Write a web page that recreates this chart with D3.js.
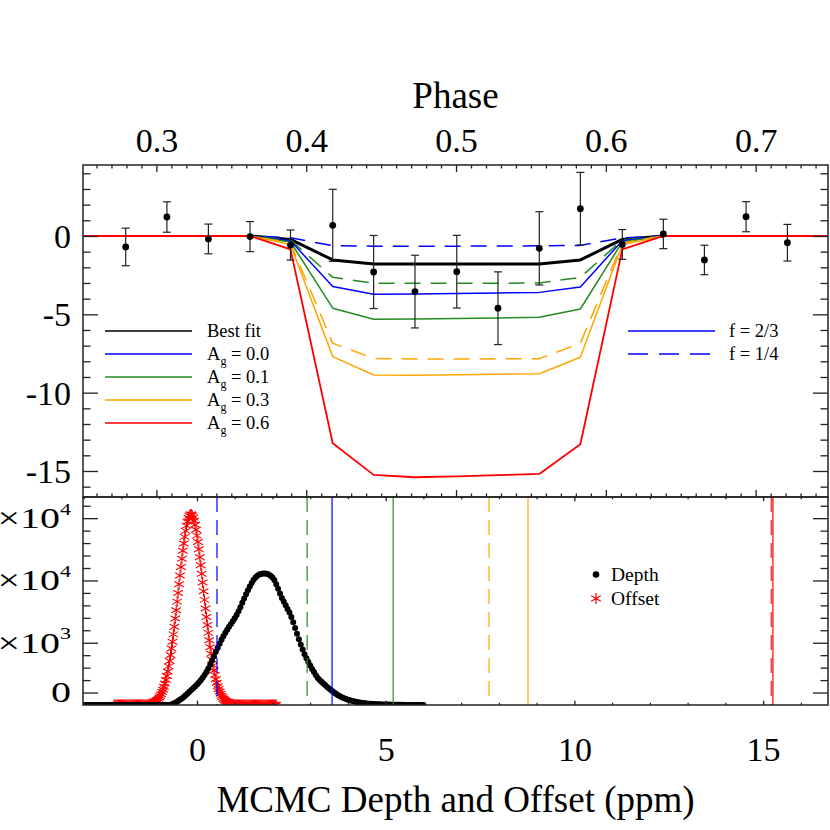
<!DOCTYPE html>
<html><head><meta charset="utf-8">
<script src="https://cdn.jsdelivr.net/npm/d3@7"></script>
<style>
body{margin:0;background:#fff}
svg{display:block}
text{font-family:"Liberation Serif","Times New Roman",serif;fill:#000}
</style>
</head><body>
<svg id="c" width="830" height="830"></svg>
<script>
// ---------------- data ----------------
const phaseTicks = [0.3, 0.4, 0.5, 0.6, 0.7];
const fluxTicks = [0, -5, -10, -15];
const ppmTicks = [0, 5, 10, 15];
const countTicks = [1000, 5000, 10000, 15000];
const countTickLabels = [["0", ""], ["5.0×10", "3"], ["1.0×10", "4"], ["1.5×10", "4"]];

const dataPhase = [0.2795,0.3070,0.3347,0.3625,0.3895,0.4177,0.4450,0.4726,0.5005,0.5280,0.5556,0.5830,0.6110,0.6384,0.6658,0.6936,0.7212];
const dataFlux  = [-0.70,1.21,-0.19,-0.04,-0.58,0.68,-2.30,-3.55,-2.28,-4.61,-0.79,1.74,-0.54,0.13,-1.53,1.23,-0.43];
const dataErr   = [1.20,0.97,0.95,0.96,0.96,2.30,2.33,2.32,2.32,2.32,2.34,2.32,0.95,0.94,0.94,0.96,1.17];

const modelPhase = [0.2500,0.2795,0.3070,0.3347,0.3625,0.3895,0.4177,0.4450,0.4726,0.5005,0.5280,0.5556,0.5830,0.6110,0.6384,0.6658,0.6936,0.7212,0.7500];
const modelBest    = [null,null,null,null,0,-0.22,-1.53,-1.79,-1.79,-1.79,-1.79,-1.79,-1.53,-0.22,0,null,null,null,null];
const modelAg00f14 = [0,0,0,0,0,-0.12,-0.62,-0.65,-0.65,-0.65,-0.64,-0.63,-0.60,-0.12,0,0,0,0,0];
const modelAg01f14 = [0,0,0,0,0,-0.25,-2.64,-3.02,-3.02,-3.02,-3.02,-3.00,-2.64,-0.25,0,0,0,0,0];
const modelAg30f14 = [0,0,0,0,0,-0.45,-6.85,-7.81,-7.86,-7.85,-7.84,-7.83,-6.85,-0.45,0,0,0,0,0];
const modelAg00f23 = [0,0,0,0,0,-0.30,-3.23,-3.72,-3.70,-3.67,-3.64,-3.60,-3.25,-0.30,0,0,0,0,0];
const modelAg01f23 = [0,0,0,0,0,-0.38,-4.61,-5.32,-5.30,-5.27,-5.23,-5.19,-4.66,-0.38,0,0,0,0,0];
const modelAg30f23 = [0,0,0,0,0,-0.55,-7.70,-8.87,-8.89,-8.85,-8.82,-8.79,-7.74,-0.55,0,0,0,0,0];
const modelAg60f23 = [0,0,0,0,0,-0.85,-13.23,-15.25,-15.40,-15.35,-15.27,-15.19,-13.29,-0.85,0,0,0,0,0];

const legendAg = ["0.0", "0.1", "0.3", "0.6"];
// depths (ppm) implied by the models: f = 1/4 (dashed) and f = 2/3 (solid)
const depthF14 = [0.53, 2.92, 7.74, 15.22];
const depthF23 = [3.58, 5.20, 8.77, 15.26];

// MCMC histograms
const depthStart = -3.0, depthStep = 0.05;
const depthCounts = [
 0,0,0,0,0,0,0,0,0,0, 0,0,0,0,0,0,0,0,0,0,
 0,0,0,0,0,0,0,0,0,0, 0,0,0,0,0,0,0,0,0,0,
 0,0,0,0,0,0,
 30,80,150,230,320,420,530,650,780,920,1060,1200,1340,1490,
 1650,1810,1990,2180,2400,2650,2930,3240,3570,3920,4270,4600,4920,5230,5520,5800,
 6050,6280,6500,6720,6960,7230,7530,7850,8200,8560,8900,9220,9520,9800,10050,10240,
 10380,10470,10520,10550,
 10560,10540,10480,10380,10240,10040,9700,9330,8950,8600,8310,8000,7700,7420,7060,6640,
 6190,5720,5280,4860,4450,4080,3750,3450,3170,2900,2640,2380,2170,2010,1860,1720,
 1580,1450,1320,1200,1080,970,870,770,680,610,540,480,430,390,350,310,
 270,240,210,180,160,140,125,110,100,90,80,70,62,56,50,45,
 40,35,31,27,24,21,18,16,14,12,10,8,7,6,5,4,
 3,2,2,1,0
];
const offsetStart = -2.2, offsetStep = 0.025;
const offsetCounts = [
 0,0,0,0,0,0,0,0,0,0, 0,0,0,0,0,0,0,0,0,0,
 0,0,0,0,0,0,0,0,0,0, 0,0,0,0,0,0,0,
 51,66,85,
 110,140,170,210,270,330,400,490,600,720,870,1040,1240,1460,1720,2010,
 2330,2690,3100,3530,4010,4530,5080,5670,6290,6940,7610,8300,9000,9700,10400,11080,
 11740,12380,12960,13500,13980,14400,14740,15010,15190,15290,15290,15210,15050,14800,14470,14070,
 13600,13080,12500,11870,11220,10540,9840,9140,8440,7750,7070,6420,5790,5200,4640,4110,
 3630,3180,2770,2400,2070,1780,1510,1280,1080,900,750,620,510,420,340,280,
 220,180,140,110,90,
 68,52,40,30,
 0,0,0,0,0,0,0,0,0,0, 0,0,0,0,0,0,0,0,0,0,
 0,0,0,0,0,0,0,0,0,0, 0,0,0,0,0,0,0,0,0,0,
 0,0,0,0
];

// ---------------- layout ----------------
const L = 83, R = 828, T1 = 165, B1 = 497, B2 = 705;
const COL = {blue: "#0000ff", green: "#228b22", orange: "#ffa500", red: "#ff0000"};
const agColors = [COL.blue, COL.green, COL.orange, COL.red];

const svg = d3.select("#c");
const xPhase = d3.scaleLinear().domain([0.2510, 0.7483]).range([L, R]);
const xPpm = d3.scaleLinear().domain([-3.02, 16.72]).range([L, R]);
const yFlux = d3.scaleLinear().domain([-16.66, 4.53]).range([B1, T1]);
const yCount = d3.scaleLinear().domain([0, 16700]).range([B2, B1]);

const defs = svg.append("defs");
defs.append("clipPath").attr("id", "clipTop").append("rect")
  .attr("x", L).attr("y", T1).attr("width", R - L).attr("height", B1 - T1);
defs.append("clipPath").attr("id", "clipBot").append("rect")
  .attr("x", L).attr("y", B1).attr("width", R - L).attr("height", B2 - B1);

// ---------------- top panel ----------------
const gTop = svg.append("g").attr("clip-path", "url(#clipTop)");
const line = d3.line().defined(d => d !== null).x((d, i) => xPhase(modelPhase[i])).y(d => yFlux(d));

const models = [
  {v: modelBest, c: "#000", dash: null, w: 3},
  {v: modelAg00f14, c: COL.blue, dash: "16,10", w: 1.5},
  {v: modelAg01f14, c: COL.green, dash: "16,10", w: 1.5},
  {v: modelAg00f23, c: COL.blue, dash: null, w: 1.5},
  {v: modelAg01f23, c: COL.green, dash: null, w: 1.5},
  {v: modelAg30f14, c: COL.orange, dash: "16,10", w: 1.5},
  {v: modelAg30f23, c: COL.orange, dash: null, w: 1.5},
  {v: modelAg60f23, c: COL.red, dash: null, w: 1.8}
];
models.forEach(m => {
  gTop.append("path").attr("d", line(m.v)).attr("fill", "none")
    .attr("stroke", m.c).attr("stroke-width", m.w)
    .attr("stroke-dasharray", m.dash).attr("stroke-linejoin", "round");
});

// data points with error bars
const gPts = gTop.append("g");
dataPhase.forEach((p, i) => {
  const x = xPhase(p), y0 = yFlux(dataFlux[i] - dataErr[i]), y1 = yFlux(dataFlux[i] + dataErr[i]);
  gPts.append("line").attr("x1", x).attr("x2", x).attr("y1", y0).attr("y2", y1)
    .attr("stroke", "#222").attr("stroke-width", 1.2);
  [y0, y1].forEach(yy => gPts.append("line").attr("x1", x - 4).attr("x2", x + 4)
    .attr("y1", yy).attr("y2", yy).attr("stroke", "#222").attr("stroke-width", 1.2));
  gPts.append("circle").attr("cx", x).attr("cy", yFlux(dataFlux[i])).attr("r", 3.4).attr("fill", "#000");
});

// ---------------- bottom panel ----------------
const gBot = svg.append("g").attr("clip-path", "url(#clipBot)");
const asterisk = "M0,-5.5V5.5M-4.8,-2.75L4.8,2.75M-4.8,2.75L4.8,-2.75";
offsetCounts.forEach((c, i) => {
  gBot.append("path").attr("d", asterisk)
    .attr("transform", `translate(${xPpm(offsetStart + i * offsetStep)},${yCount(c)})`)
    .attr("stroke", COL.red).attr("stroke-width", 1.1).attr("fill", "none");
});
depthCounts.forEach((c, i) => {
  gBot.append("circle").attr("cx", xPpm(depthStart + i * depthStep)).attr("cy", yCount(c))
    .attr("r", 3).attr("fill", "#000");
});
depthF14.forEach((d, i) => {
  gBot.append("line").attr("x1", xPpm(d)).attr("x2", xPpm(d)).attr("y1", B1).attr("y2", B2)
    .attr("stroke", agColors[i]).attr("stroke-width", 1.6).attr("stroke-opacity", 0.75)
    .attr("stroke-dasharray", "15,8");
});
depthF23.forEach((d, i) => {
  gBot.append("line").attr("x1", xPpm(d)).attr("x2", xPpm(d)).attr("y1", B1).attr("y2", B2)
    .attr("stroke", agColors[i]).attr("stroke-width", 1.6).attr("stroke-opacity", 0.75);
});

// ---------------- axes ----------------
function rng(a, b, s) { const out = []; for (let v = a; v <= b + 1e-9; v += s) out.push(+v.toFixed(4)); return out; }
function axisG(axis, tx, ty) {
  const g = svg.append("g").attr("transform", `translate(${tx},${ty})`).call(axis);
  g.select(".domain").remove();
  g.selectAll("line").attr("stroke", "#222").attr("stroke-width", 1.3);
  return g;
}
const phaseMinor = rng(0.26, 0.74, 0.01).filter(v => !phaseTicks.some(t => Math.abs(t - v) < 1e-6));
const fluxMinor = rng(-16, 4, 1).filter(v => v % 5 !== 0);
const ppmMinor = rng(-3, 16, 1).filter(v => v % 5 !== 0);
const countMinor = rng(2000, 16000, 1000).filter(v => v % 5000 !== 0);

// top panel top (labelled phase)
const topAx = axisG(d3.axisTop(xPhase).tickValues(phaseTicks).tickSize(-7).tickFormat(d3.format(".1f")), 0, T1);
topAx.selectAll("text").attr("y", -13).attr("dy", 0).attr("font-size", 34)
  .attr("font-family", "Liberation Serif").attr("fill", "#000");
axisG(d3.axisTop(xPhase).tickValues(phaseMinor).tickSize(-3.5).tickFormat(""), 0, T1);
// top panel bottom (phase ticks pointing up)
axisG(d3.axisBottom(xPhase).tickValues(phaseTicks).tickSize(-7).tickFormat(""), 0, B1);
axisG(d3.axisBottom(xPhase).tickValues(phaseMinor).tickSize(-3.5).tickFormat(""), 0, B1);
// top panel left
const leftAx = axisG(d3.axisLeft(yFlux).tickValues(fluxTicks).tickSize(-15).tickPadding(12).tickFormat(d => String(d)), L, 0);
leftAx.selectAll("text").attr("dy", "0.34em").attr("font-size", 34)
  .attr("font-family", "Liberation Serif").attr("fill", "#000");
axisG(d3.axisLeft(yFlux).tickValues(fluxMinor).tickSize(-7.5).tickFormat(""), L, 0);
// top panel right
axisG(d3.axisRight(yFlux).tickValues(fluxTicks).tickSize(-15).tickFormat(""), R, 0);
axisG(d3.axisRight(yFlux).tickValues(fluxMinor).tickSize(-7.5).tickFormat(""), R, 0);

// bottom panel bottom (labelled ppm)
const botAx = axisG(d3.axisBottom(xPpm).tickValues(ppmTicks).tickSize(-4.3).tickFormat(d => String(d)), 0, B2);
botAx.selectAll("text").attr("y", 56).attr("dy", 0).attr("font-size", 34)
  .attr("font-family", "Liberation Serif").attr("fill", "#000");
axisG(d3.axisBottom(xPpm).tickValues(ppmMinor).tickSize(-2.2).tickFormat(""), 0, B2);
// bottom panel top
axisG(d3.axisTop(xPpm).tickValues(ppmTicks).tickSize(-4.3).tickFormat(""), 0, B1);
axisG(d3.axisTop(xPpm).tickValues(ppmMinor).tickSize(-2.2).tickFormat(""), 0, B1);
// bottom panel left / right
axisG(d3.axisLeft(yCount).tickValues(countTicks).tickSize(-15).tickFormat(""), L, 0);
axisG(d3.axisLeft(yCount).tickValues(countMinor).tickSize(-7.5).tickFormat(""), L, 0);
axisG(d3.axisRight(yCount).tickValues(countTicks).tickSize(-15).tickFormat(""), R, 0);
axisG(d3.axisRight(yCount).tickValues(countMinor).tickSize(-7.5).tickFormat(""), R, 0);
countTicks.forEach((v, i) => {
  const t = svg.append("text").attr("transform", `translate(71,${yCount(v)}) scale(1,0.72)`)
    .attr("text-anchor", "end").attr("font-size", 40).attr("dy", "0.34em");
  t.append("tspan").text(countTickLabels[i][0]);
  if (countTickLabels[i][1]) t.append("tspan").attr("font-size", 22).attr("dy", "-0.85em").text(countTickLabels[i][1]);
});

// frames
svg.append("rect").attr("x", L).attr("y", T1).attr("width", R - L).attr("height", B1 - T1)
  .attr("fill", "none").attr("stroke", "#222").attr("stroke-width", 1.5);
svg.append("rect").attr("x", L).attr("y", B1).attr("width", R - L).attr("height", B2 - B1)
  .attr("fill", "none").attr("stroke", "#222").attr("stroke-width", 1.5);

// titles
svg.append("text").attr("x", (L + R) / 2).attr("y", 108).attr("text-anchor", "middle")
  .attr("font-size", 37).text("Phase");
svg.append("text").attr("x", (L + R) / 2).attr("y", 812).attr("text-anchor", "middle")
  .attr("font-size", 37).text("MCMC Depth and Offset (ppm)");

// ---------------- legends ----------------
const lg = svg.append("g");
const lgRows = [{c: "#000", label: "Best fit"}].concat(legendAg.map((a, i) => ({c: agColors[i], ag: a})));
lgRows.forEach((r, i) => {
  const y = 331 + i * 23;
  lg.append("line").attr("x1", 105).attr("x2", 192).attr("y1", y).attr("y2", y)
    .attr("stroke", r.c).attr("stroke-width", 1.5);
  const t = lg.append("text").attr("x", 207).attr("y", y + 6).attr("font-size", 18.5);
  if (r.label) t.text(r.label);
  else {
    t.append("tspan").text("A");
    t.append("tspan").attr("font-size", 12).attr("dy", 5).text("g");
    t.append("tspan").attr("dy", -5).text(" = " + r.ag);
  }
});
[["f = 2/3", null], ["f = 1/4", "20,11"]].forEach((r, i) => {
  const y = 331 + i * 23;
  lg.append("line").attr("x1", 628).attr("x2", 715).attr("y1", y).attr("y2", y)
    .attr("stroke", COL.blue).attr("stroke-width", 1.5).attr("stroke-dasharray", r[1]);
  lg.append("text").attr("x", 729).attr("y", y + 6).attr("font-size", 18.5).text(r[0]);
});
lg.append("circle").attr("cx", 596).attr("cy", 574.5).attr("r", 3.3).attr("fill", "#000");
lg.append("text").attr("x", 611).attr("y", 581).attr("font-size", 19.5).text("Depth");
lg.append("path").attr("d", asterisk).attr("transform", "translate(596,598.5)")
  .attr("stroke", COL.red).attr("stroke-width", 1.2).attr("fill", "none");
lg.append("text").attr("x", 611).attr("y", 605).attr("font-size", 19.5).text("Offset");
</script>
</body></html>
